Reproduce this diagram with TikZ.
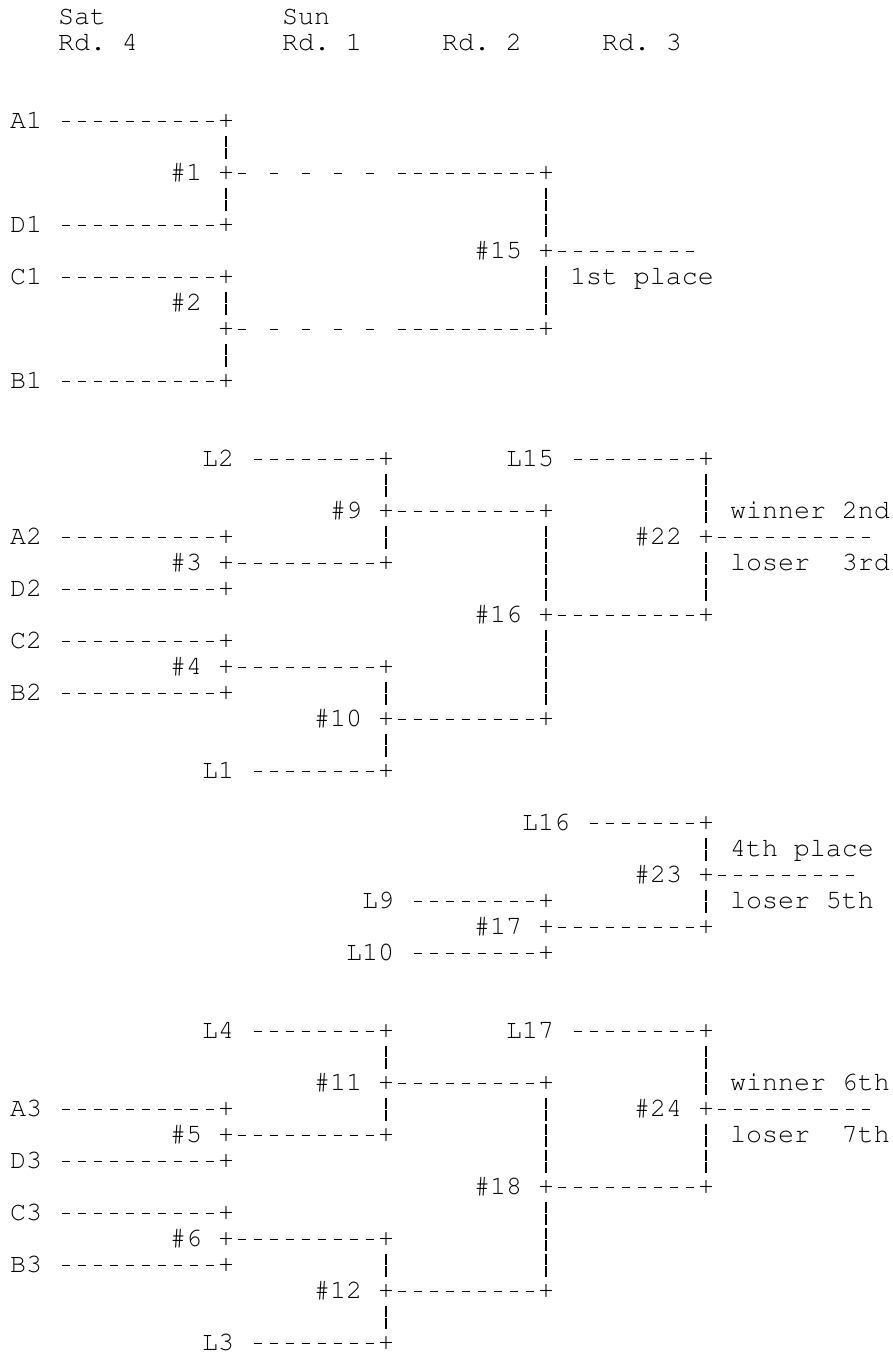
\documentclass[tikz,border=0pt]{standalone}
\usepackage[T1]{fontenc}
\newcommand\bfnt{\fontencoding{T1}\fontfamily{pcr}\fontseries{m}\fontshape{n}\fontsize{26.667pt}{26pt}\selectfont}
\newcommand\msp{\hbox to 16pt{\hss}}
\newcommand\putlab[4]{\node[lab] (#1) at ({10+16*#2},{24+26*#3}) {#4};}
\newcommand\putj[3]{\node[jn] (#1) at ({10+16*#2},{24+26*#3}) {+};}
\newcommand\putend[3]{\coordinate (#1) at ({10+16*#2-3.7},{24+26*#3-6.2});}
\newcommand\conlj[2]{\draw[hd] ([xshift=19.7pt]#1.east) -- ([xshift=-3.7pt]#2.west);}
\newcommand\conjj[2]{\draw[hd] ([xshift=3.7pt]#1.east) -- ([xshift=-3.7pt]#2.west);}
\newcommand\conje[2]{\draw[hd] ([xshift=3.7pt]#1.east) -- (#2);}
\newcommand\convj[2]{\draw[vb] ([yshift=-13.7pt]#1.center) -- ([yshift=14.8pt]#2.center);}
\tikzset{
  lab/.style={font=\bfnt, inner sep=0pt, outer sep=0pt, anchor=base west, text height=15.4pt, text depth=3pt},
  jn/.style={lab},
  hd/.style={line width=1.3pt, dash pattern=on 8.6pt off 7.4pt},
  vb/.style={line width=1.3pt, dash pattern=on 11pt off 1.5pt on 11pt off 2.5pt},
  hs/.style={line width=1.3pt, dash pattern=on 8.6pt off 23.4pt on 8.6pt off 23.4pt on 8.6pt off 23.4pt on 8.6pt off 23.4pt on 8.6pt off 23.4pt on 8.6pt off 7.4pt on 8.6pt off 7.4pt on 8.6pt off 7.4pt on 8.6pt off 7.4pt on 8.6pt off 7.4pt on 8.6pt off 7.4pt on 8.6pt off 7.4pt on 8.6pt off 7.4pt on 8.6pt off 7.4pt}
}
\begin{document}
\begin{tikzpicture}[x=1pt,y=-1pt]
\fill[white] (0,0) rectangle (893,1353);
\path[use as bounding box] (0,0) rectangle (893,1353);
% header
\putlab{sat}{3}{0}{Sat}
\putlab{sun}{17}{0}{Sun}
\putlab{rdfour}{3}{1}{Rd.\msp 4}
\putlab{rdone}{17}{1}{Rd.\msp 1}
\putlab{rdtwo}{27}{1}{Rd.\msp 2}
\putlab{rdthree}{37}{1}{Rd.\msp 3}
% block 1
\putlab{A1}{0}{4}{A1} \putj{jA1}{13}{4}
\putlab{m1}{10}{6}{\#1} \putj{jm1}{13}{6} \putj{jm1r}{33}{6}
\putlab{D1}{0}{8}{D1} \putj{jD1}{13}{8}
\putlab{m15}{29}{9}{\#15} \putj{jm15}{33}{9} \putend{e15}{43}{9}
\putlab{C1}{0}{10}{C1} \putj{jC1}{13}{10} \putlab{p1}{35}{10}{1st\msp place}
\putlab{m2}{10}{11}{\#2}
\putj{jm2}{13}{12} \putj{jm2r}{33}{12}
\putlab{B1}{0}{14}{B1} \putj{jB1}{13}{14}
\conlj{A1}{jA1} \conlj{D1}{jD1} \conlj{C1}{jC1} \conlj{B1}{jB1}
\convj{jA1}{jm1} \convj{jm1}{jD1} \convj{jC1}{jm2} \convj{jm2}{jB1}
\draw[hs] ([xshift=3.7pt]jm1.east) -- ([xshift=-3.7pt]jm1r.west);
\draw[hs] ([xshift=3.7pt]jm2.east) -- ([xshift=-3.7pt]jm2r.west);
\convj{jm1r}{jm15} \convj{jm15}{jm2r}
\conje{jm15}{e15}
% block 2
\putlab{L2}{12}{17}{L2} \putj{jL2}{23}{17} \putlab{L15}{31}{17}{L15} \putj{jL15}{43}{17}
\putlab{m9}{20}{19}{\#9} \putj{jm9}{23}{19} \putj{jm9r}{33}{19} \putlab{w2}{45}{19}{winner\msp 2nd}
\putlab{A2}{0}{20}{A2} \putj{jA2}{13}{20} \putlab{m22}{39}{20}{\#22} \putj{jm22}{43}{20} \putend{e22}{54}{20}
\putlab{m3}{10}{21}{\#3} \putj{jm3}{13}{21} \putj{jm3r}{23}{21} \putlab{l3}{45}{21}{loser\msp\msp 3rd}
\putlab{D2}{0}{22}{D2} \putj{jD2}{13}{22}
\putlab{m16}{29}{23}{\#16} \putj{jm16}{33}{23} \putj{jm16r}{43}{23}
\putlab{C2}{0}{24}{C2} \putj{jC2}{13}{24}
\putlab{m4}{10}{25}{\#4} \putj{jm4}{13}{25} \putj{jm4r}{23}{25}
\putlab{B2}{0}{26}{B2} \putj{jB2}{13}{26}
\putlab{m10}{19}{27}{\#10} \putj{jm10}{23}{27} \putj{jm10r}{33}{27}
\putlab{L1}{12}{29}{L1} \putj{jL1}{23}{29}
\conlj{L2}{jL2} \conlj{L15}{jL15} \conjj{jm9}{jm9r} \conlj{A2}{jA2} \conje{jm22}{e22}
\conjj{jm3}{jm3r} \conlj{D2}{jD2} \conjj{jm16}{jm16r} \conlj{C2}{jC2} \conjj{jm4}{jm4r}
\conlj{B2}{jB2} \conjj{jm10}{jm10r} \conlj{L1}{jL1}
\convj{jL2}{jm9} \convj{jm9}{jm3r} \convj{jm9r}{jm16} \convj{jm16}{jm10r}
\convj{jL15}{jm22} \convj{jm22}{jm16r} \convj{jm4r}{jm10} \convj{jm10}{jL1}
% block 3
\putlab{L16}{32}{31}{L16} \putj{jL16}{43}{31}
\putlab{p4}{45}{32}{4th\msp place}
\putlab{m23}{39}{33}{\#23} \putj{jm23}{43}{33} \putend{e23}{53}{33}
\putlab{L9}{22}{34}{L9} \putj{jL9}{33}{34} \putlab{l5}{45}{34}{loser\msp 5th}
\putlab{m17}{29}{35}{\#17} \putj{jm17}{33}{35} \putj{jm17r}{43}{35}
\putlab{L10}{21}{36}{L10} \putj{jL10}{33}{36}
\conlj{L16}{jL16} \conje{jm23}{e23} \conlj{L9}{jL9} \conjj{jm17}{jm17r} \conlj{L10}{jL10}
\convj{jL16}{jm23} \convj{jm23}{jm17r}
% block 4
\putlab{L4}{12}{39}{L4} \putj{jL4}{23}{39} \putlab{L17}{31}{39}{L17} \putj{jL17}{43}{39}
\putlab{m11}{19}{41}{\#11} \putj{jm11}{23}{41} \putj{jm11r}{33}{41} \putlab{w6}{45}{41}{winner\msp 6th}
\putlab{A3}{0}{42}{A3} \putj{jA3}{13}{42} \putlab{m24}{39}{42}{\#24} \putj{jm24}{43}{42} \putend{e24}{54}{42}
\putlab{m5}{10}{43}{\#5} \putj{jm5}{13}{43} \putj{jm5r}{23}{43} \putlab{l7}{45}{43}{loser\msp\msp 7th}
\putlab{D3}{0}{44}{D3} \putj{jD3}{13}{44}
\putlab{m18}{29}{45}{\#18} \putj{jm18}{33}{45} \putj{jm18r}{43}{45}
\putlab{C3}{0}{46}{C3} \putj{jC3}{13}{46}
\putlab{m6}{10}{47}{\#6} \putj{jm6}{13}{47} \putj{jm6r}{23}{47}
\putlab{B3}{0}{48}{B3} \putj{jB3}{13}{48}
\putlab{m12}{19}{49}{\#12} \putj{jm12}{23}{49} \putj{jm12r}{33}{49}
\putlab{L3}{12}{51}{L3} \putj{jL3}{23}{51}
\conlj{L4}{jL4} \conlj{L17}{jL17} \conjj{jm11}{jm11r} \conlj{A3}{jA3} \conje{jm24}{e24}
\conjj{jm5}{jm5r} \conlj{D3}{jD3} \conjj{jm18}{jm18r} \conlj{C3}{jC3} \conjj{jm6}{jm6r}
\conlj{B3}{jB3} \conjj{jm12}{jm12r} \conlj{L3}{jL3}
\convj{jL4}{jm11} \convj{jm11}{jm5r} \convj{jm11r}{jm18} \convj{jm18}{jm12r}
\convj{jL17}{jm24} \convj{jm24}{jm18r} \convj{jm6r}{jm12} \convj{jm12}{jL3}
\end{tikzpicture}
\end{document}
